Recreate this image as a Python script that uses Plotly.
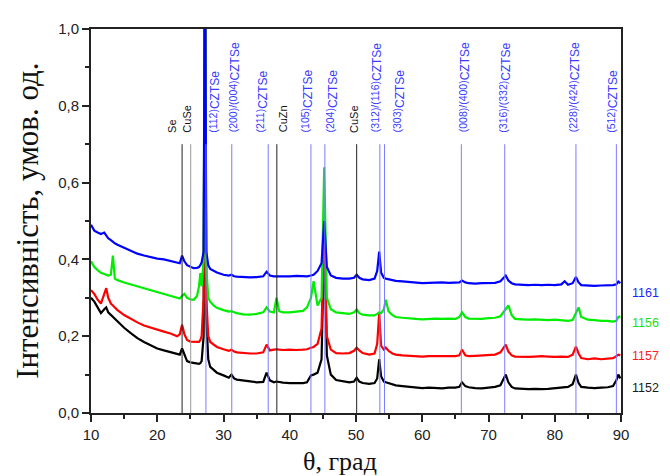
import plotly.graph_objects as go

# ---------------- data ----------------
theta = [10, 10.5, 11, 11.5, 12, 12.3, 12.6, 13, 13.3, 13.6,
         14, 15, 16, 17, 18, 19, 20, 21, 22, 23,
         23.4, 23.75, 24.1, 24.5, 25, 25.5, 26, 26.3, 26.5, 26.7,
         27.0, 27.2, 27.4, 27.7, 28, 28.5, 29, 30, 30.8, 31.2,
         31.6, 32, 33, 34, 35, 36, 36.5, 37, 37.6, 38.0,
         38.4, 39, 40, 41, 42, 42.6, 43.2, 43.6, 44.2, 44.8,
         45.2, 45.6, 46.2, 47, 48, 49, 49.7, 50.1, 50.5, 51,
         52, 52.8, 53.2, 53.5, 53.8, 54.2, 54.5, 54.9, 55.5, 56,
         57, 58, 59, 60, 61, 62, 63, 64, 65, 65.6,
         66.0, 66.5, 67, 68, 69, 70, 71, 71.8, 72.6, 73.0,
         73.5, 74, 75, 76, 77, 78, 79, 80, 81, 81.5,
         82, 82.7, 83.2, 83.6, 84, 85, 86, 87, 88, 88.8,
         89.3, 89.6, 89.9]

i_1152 = [0.300, 0.290, 0.275, 0.260, 0.270, 0.275, 0.262, 0.255, 0.250, 0.245,
          0.238, 0.222, 0.208, 0.195, 0.185, 0.176, 0.168, 0.163, 0.158, 0.153,
          0.152, 0.168, 0.150, 0.135, 0.132, 0.130, 0.128, 0.128, 0.130, 0.135,
          0.200, 1.300, 0.250, 0.140, 0.120, 0.112, 0.105, 0.098, 0.092, 0.100,
          0.090, 0.087, 0.084, 0.082, 0.080, 0.081, 0.105, 0.085, 0.080, 0.082,
          0.080, 0.079, 0.078, 0.078, 0.078, 0.080, 0.098, 0.100, 0.105, 0.140,
          0.460, 0.150, 0.100, 0.086, 0.082, 0.080, 0.082, 0.092, 0.082, 0.078,
          0.076, 0.078, 0.090, 0.140, 0.095, 0.082, 0.080, 0.078, 0.074, 0.072,
          0.070, 0.068, 0.066, 0.065, 0.066, 0.065, 0.064, 0.066, 0.066, 0.068,
          0.080, 0.070, 0.067, 0.065, 0.064, 0.066, 0.068, 0.072, 0.100, 0.080,
          0.068, 0.064, 0.063, 0.062, 0.063, 0.062, 0.063, 0.065, 0.066, 0.067,
          0.068, 0.075, 0.100, 0.078, 0.068, 0.066, 0.065, 0.066, 0.067, 0.070,
          0.085, 0.100, 0.090]

i_1157 = [0.320, 0.310, 0.295, 0.285, 0.310, 0.325, 0.300, 0.285, 0.280, 0.275,
          0.268, 0.255, 0.245, 0.236, 0.228, 0.222, 0.216, 0.212, 0.207, 0.200,
          0.205, 0.230, 0.205, 0.190, 0.186, 0.186, 0.185, 0.185, 0.190, 0.200,
          0.300, 1.300, 0.300, 0.200, 0.185, 0.178, 0.172, 0.166, 0.162, 0.165,
          0.160, 0.158, 0.156, 0.155, 0.155, 0.158, 0.178, 0.163, 0.165, 0.166,
          0.165, 0.164, 0.165, 0.164, 0.165, 0.166, 0.170, 0.172, 0.180, 0.220,
          0.480, 0.200, 0.165, 0.156, 0.155, 0.156, 0.162, 0.170, 0.163, 0.156,
          0.152, 0.155, 0.180, 0.260, 0.175, 0.165, 0.170, 0.162, 0.155, 0.152,
          0.150, 0.149, 0.148, 0.147, 0.148, 0.148, 0.147, 0.148, 0.148, 0.150,
          0.165, 0.150, 0.148, 0.149, 0.150, 0.150, 0.152, 0.158, 0.178, 0.160,
          0.150, 0.147, 0.146, 0.146, 0.147, 0.148, 0.147, 0.146, 0.147, 0.146,
          0.146, 0.152, 0.173, 0.155, 0.143, 0.140, 0.142, 0.140, 0.142, 0.143,
          0.148, 0.152, 0.150]

i_1156 = [0.395, 0.380, 0.372, 0.365, 0.362, 0.360, 0.358, 0.360, 0.410, 0.350,
          0.346, 0.340, 0.335, 0.328, 0.323, 0.318, 0.313, 0.309, 0.304, 0.298,
          0.298, 0.305, 0.310, 0.300, 0.296, 0.295, 0.305, 0.330, 0.364, 0.330,
          0.400, 1.300, 0.380, 0.300, 0.290, 0.280, 0.274, 0.268, 0.264, 0.265,
          0.262, 0.260, 0.257, 0.256, 0.258, 0.262, 0.275, 0.264, 0.262, 0.300,
          0.265, 0.262, 0.262, 0.264, 0.266, 0.275, 0.300, 0.343, 0.280, 0.300,
          0.640, 0.300, 0.270, 0.262, 0.260, 0.258, 0.262, 0.270, 0.260, 0.256,
          0.254, 0.254, 0.258, 0.262, 0.260, 0.270, 0.295, 0.265, 0.255, 0.250,
          0.248, 0.246, 0.245, 0.244, 0.245, 0.246, 0.245, 0.246, 0.245, 0.250,
          0.262, 0.250, 0.246, 0.245, 0.245, 0.247, 0.248, 0.252, 0.270, 0.280,
          0.255, 0.245, 0.244, 0.243, 0.244, 0.243, 0.242, 0.243, 0.242, 0.242,
          0.240, 0.242, 0.262, 0.275, 0.250, 0.243, 0.242, 0.240, 0.240, 0.238,
          0.240, 0.250, 0.252]

i_1161 = [0.490, 0.475, 0.470, 0.466, 0.470, 0.462, 0.455, 0.450, 0.445, 0.442,
          0.438, 0.430, 0.422, 0.415, 0.410, 0.405, 0.402, 0.400, 0.396, 0.392,
          0.390, 0.410, 0.395, 0.385, 0.380, 0.377, 0.378, 0.380, 0.385, 0.392,
          0.420, 1.300, 0.420, 0.385, 0.375, 0.370, 0.366, 0.360, 0.358, 0.360,
          0.356, 0.355, 0.354, 0.353, 0.354, 0.356, 0.368, 0.358, 0.356, 0.356,
          0.356, 0.355, 0.356, 0.357, 0.356, 0.356, 0.358, 0.360, 0.370, 0.390,
          0.500, 0.380, 0.358, 0.352, 0.350, 0.350, 0.352, 0.360, 0.352, 0.348,
          0.346, 0.350, 0.370, 0.420, 0.365, 0.352, 0.350, 0.348, 0.345, 0.344,
          0.343, 0.341, 0.340, 0.338, 0.339, 0.340, 0.340, 0.339, 0.340, 0.340,
          0.345, 0.340, 0.338, 0.337, 0.338, 0.338, 0.339, 0.343, 0.358, 0.345,
          0.338, 0.335, 0.334, 0.333, 0.334, 0.333, 0.334, 0.333, 0.335, 0.343,
          0.334, 0.338, 0.354, 0.340, 0.333, 0.332, 0.331, 0.332, 0.332, 0.333,
          0.335, 0.342, 0.338]

series_names = ["1152", "1157", "1156", "1161"]
series_colors = ["#000000", "#ff0000", "#00ee00", "#0000ff"]
series_label_colors = ["#1a1a1a", "#ff1a1a", "#22dd22", "#1f1fff"]
series_label_y = [0.066, 0.148, 0.234, 0.313]

# reference (phase) lines
ref_pos = [23.75, 25.05, 27.35, 31.25, 36.75, 38.05, 43.2, 45.3, 50.1, 53.6, 54.3, 65.9, 72.45, 83.2, 89.3]
ref_kind = ["k", "g", "b", "b", "b", "k", "b", "b", "k", "b", "b", "b", "b", "b", "b"]
ref_top = 0.70

# labels of the phases
lab_x = [22.2, 24.5, 28.6, 31.7, 35.8, 39.0, 42.5, 46.3, 49.6, 53.1, 56.4, 66.4, 72.5, 83.0, 88.6]
lab_idx = ["Se", "CuSe", "(112)", "(200)/(004)", "(211)", "CuZn", "(105)", "(204)", "CuSe",
           "(312)/(116)", "(303)", "(008)/(400)", "(316)/(332)", "(228)/(424)", "(512)"]
lab_cz = [False, False, True, True, True, False, True, True, False, True, True, True, True, True, True]
lab_base = 0.725

x_ticks = [10, 20, 30, 40, 50, 60, 70, 80, 90]
y_ticks = [0.0, 0.2, 0.4, 0.6, 0.8, 1.0]

# ---------------- figure ----------------
fig = go.Figure()

for name, col, ys in zip(series_names, series_colors, [i_1152, i_1157, i_1156, i_1161]):
    fig.add_trace(go.Scatter(x=theta, y=ys, mode="lines", name=name,
                             line=dict(color=col, width=2.2), showlegend=False,
                             hoverinfo="skip"))

line_cols = {"k": "#222222", "g": "#999999", "b": "#7b7bff"}
for xp, k in zip(ref_pos, ref_kind):
    fig.add_trace(go.Scatter(x=[xp, xp], y=[0, ref_top], mode="lines",
                             line=dict(color=line_cols[k], width=1), showlegend=False,
                             hoverinfo="skip"))

for xp, idx, cz in zip(lab_x, lab_idx, lab_cz):
    if cz:
        txt = ("<span style='font-size:10.5px'>" + idx + "</span>"
               "<sub><span style='font-size:12px'>CZTSe</span></sub>")
        col = "#3a3aff"
    else:
        txt = idx
        col = "#111111"
    fig.add_annotation(x=xp, y=lab_base, xref="x", yref="y", text=txt, showarrow=False,
                       textangle=-90, xanchor="center", yanchor="bottom",
                       font=dict(family="Liberation Sans, Arial", size=11, color=col))

for name, col, yv in zip(series_names, series_label_colors, series_label_y):
    fig.add_annotation(x=1.046, y=yv, xref="paper", yref="y", text=name, showarrow=False,
                       xanchor="center", yanchor="middle",
                       font=dict(family="Liberation Sans, Arial", size=12.5, color=col))

fig.add_annotation(x=-0.121, y=0.50, xref="paper", yref="paper",
                   text="Інтенсивність, умов. од.", showarrow=False, textangle=-90,
                   xanchor="center", yanchor="middle",
                   font=dict(family="Liberation Serif, Times New Roman", size=31, color="#111111"))
fig.add_annotation(x=0.47, y=-0.125, xref="paper", yref="paper",
                   text="θ, град", showarrow=False, xanchor="center", yanchor="middle",
                   font=dict(family="Liberation Serif, Times New Roman", size=26, color="#111111"))

axis_common = dict(showgrid=False, zeroline=False, showline=True, linecolor="#222222",
                   linewidth=2, mirror=True, ticks="outside", ticklen=7, tickwidth=1.5,
                   tickcolor="#222222",
                   tickfont=dict(family="Liberation Sans, Arial", size=15, color="#222222"))

fig.update_xaxes(range=[10, 90], tickvals=x_ticks,
                 minor=dict(dtick=5, tick0=10, ticks="outside", ticklen=4, tickcolor="#222222"),
                 **axis_common)
fig.update_yaxes(range=[0, 1.0], tickvals=y_ticks, tickformat=".1f",
                 minor=dict(dtick=0.1, tick0=0, ticks="outside", ticklen=4, tickcolor="#222222"),
                 **axis_common)

# the page body adds an 8 px offset, so the figure is 662x468 with the plot area
# placed at the same window pixels as the reference
fig.update_layout(width=662, height=468, autosize=False,
                  margin=dict(l=83, r=49, t=12, b=63),
                  paper_bgcolor="white", plot_bgcolor="white",
                  separators=", ", showlegend=False)

fig.write_html("out.html")
